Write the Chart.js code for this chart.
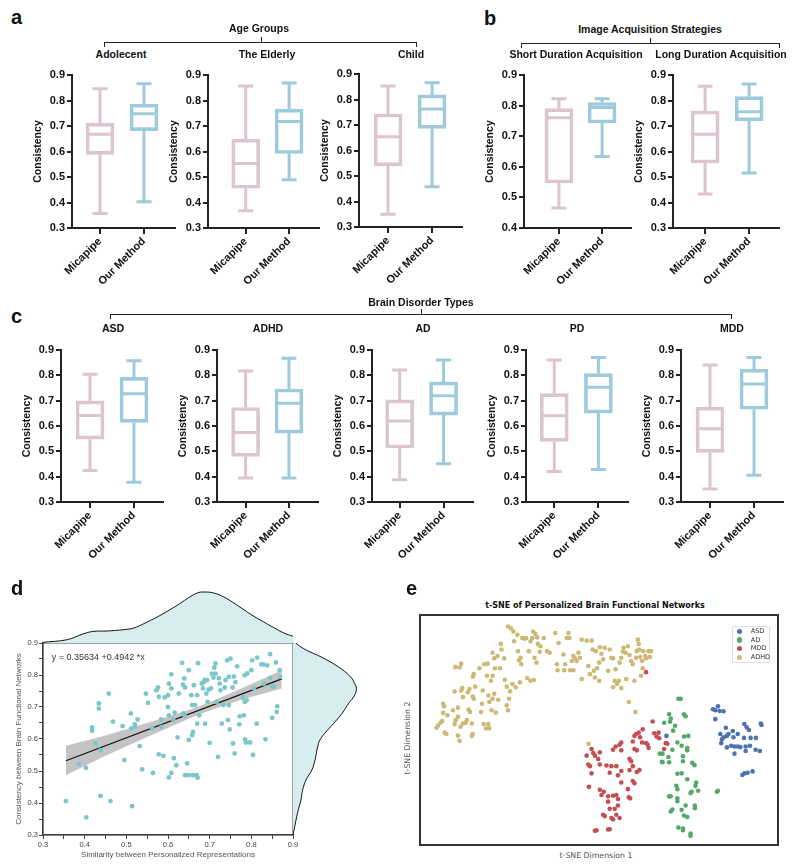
<!DOCTYPE html>
<html>
<head>
<meta charset="utf-8">
<script src="https://cdn.jsdelivr.net/npm/chart.js@4.4.0/dist/chart.umd.min.js"></script>
<style>
body { margin: 0; background: #fff; }
#fig { position: relative; width: 793px; height: 866px; overflow: hidden; font-family: 'Liberation Sans', Arial, sans-serif; color: #111; }
#fig canvas { position: absolute; }
.t { position: absolute; white-space: nowrap; }
.br { position: absolute; border: 1.3px solid #222; border-bottom: none; height: 5px; box-sizing: border-box; }
.bt { position: absolute; width: 0; height: 5px; border-left: 1.3px solid #222; }
</style>
</head>
<body>
<div id="fig"></div>
<script>
// ---- box plot data (a, b, c) ----
const groups = ['Adolecent', 'The Elderly', 'Child', 'Short Duration Acquisition', 'Long Duration Acquisition', 'ASD', 'ADHD', 'AD', 'PD', 'MDD'];
const methods = ['Micapipe', 'Our Method'];
const micapipeMin    = [0.357, 0.368, 0.350, 0.465, 0.433, 0.424, 0.395, 0.388, 0.420, 0.351];
const micapipeQ1     = [0.589, 0.456, 0.540, 0.547, 0.555, 0.548, 0.480, 0.513, 0.539, 0.496];
const micapipeMedian = [0.668, 0.553, 0.654, 0.760, 0.668, 0.641, 0.574, 0.620, 0.640, 0.589];
const micapipeQ3     = [0.711, 0.648, 0.743, 0.790, 0.759, 0.699, 0.673, 0.703, 0.728, 0.674];
const micapipeMax    = [0.846, 0.857, 0.853, 0.822, 0.856, 0.804, 0.817, 0.821, 0.861, 0.841];
const ourMin    = [0.403, 0.489, 0.458, 0.634, 0.516, 0.378, 0.395, 0.451, 0.428, 0.406];
const ourQ1     = [0.682, 0.592, 0.687, 0.743, 0.720, 0.614, 0.572, 0.643, 0.651, 0.666];
const ourMedian = [0.748, 0.718, 0.763, 0.794, 0.756, 0.727, 0.690, 0.719, 0.753, 0.766];
const ourQ3     = [0.786, 0.766, 0.818, 0.810, 0.815, 0.792, 0.746, 0.774, 0.807, 0.824];
const ourMax    = [0.866, 0.869, 0.866, 0.822, 0.865, 0.858, 0.867, 0.861, 0.870, 0.870];
const yTicksBox = [0.3, 0.4, 0.5, 0.6, 0.7, 0.8, 0.9];

// ---- scatter data (d): [similarity, consistency] ----
const scatterPoints = [
  [0.355,0.406],[0.386,0.522],[0.403,0.510],[0.404,0.355],[0.418,0.636],[0.418,0.626],[0.426,0.586],[0.434,0.711],
  [0.434,0.695],[0.438,0.565],[0.438,0.422],[0.458,0.742],[0.462,0.406],[0.468,0.654],[0.491,0.640],[0.495,0.534],
  [0.511,0.680],[0.512,0.633],[0.514,0.390],[0.520,0.646],[0.521,0.638],[0.527,0.661],[0.532,0.578],[0.538,0.505],
  [0.547,0.742],[0.552,0.713],[0.562,0.633],[0.564,0.494],[0.572,0.752],[0.576,0.761],[0.578,0.732],[0.578,0.552],
  [0.584,0.661],[0.584,0.638],[0.589,0.547],[0.592,0.730],[0.600,0.737],[0.600,0.700],[0.602,0.773],[0.602,0.674],
  [0.602,0.480],[0.608,0.758],[0.608,0.802],[0.608,0.494],[0.613,0.659],[0.614,0.540],[0.616,0.682],[0.620,0.518],
  [0.623,0.605],[0.626,0.742],[0.634,0.838],[0.636,0.770],[0.637,0.680],[0.639,0.789],[0.640,0.672],[0.641,0.761],
  [0.641,0.487],[0.646,0.524],[0.650,0.815],[0.650,0.597],[0.650,0.487],[0.656,0.737],[0.658,0.612],[0.660,0.487],
  [0.658,0.706],[0.660,0.622],[0.662,0.768],[0.665,0.706],[0.669,0.487],[0.671,0.479],[0.670,0.648],[0.675,0.674],
  [0.672,0.837],[0.670,0.737],[0.681,0.773],[0.684,0.758],[0.686,0.778],[0.688,0.785],[0.689,0.648],[0.692,0.742],
  [0.694,0.784],[0.695,0.716],[0.697,0.754],[0.700,0.588],[0.703,0.758],[0.705,0.804],[0.709,0.792],[0.711,0.823],
  [0.714,0.836],[0.714,0.804],[0.717,0.716],[0.720,0.544],[0.722,0.790],[0.724,0.773],[0.726,0.752],[0.729,0.648],
  [0.733,0.706],[0.736,0.761],[0.738,0.784],[0.742,0.846],[0.744,0.659],[0.746,0.706],[0.746,0.794],[0.748,0.630],
  [0.750,0.851],[0.755,0.761],[0.756,0.586],[0.758,0.795],[0.760,0.555],[0.762,0.778],[0.766,0.827],[0.771,0.646],
  [0.772,0.671],[0.780,0.729],[0.782,0.674],[0.784,0.716],[0.784,0.799],[0.785,0.599],[0.787,0.589],[0.789,0.721],
  [0.790,0.805],[0.797,0.589],[0.800,0.815],[0.802,0.846],[0.804,0.550],[0.806,0.758],[0.813,0.648],[0.814,0.854],
  [0.824,0.833],[0.828,0.833],[0.830,0.773],[0.834,0.599],[0.838,0.830],[0.845,0.865],[0.845,0.791],[0.850,0.765],
  [0.850,0.666],[0.854,0.763],[0.859,0.839],[0.861,0.685],[0.862,0.702],[0.868,0.815],[0.869,0.794]
];
const fitLine = [[0.355, 0.532], [0.873, 0.788]];            // y = 0.35634 + 0.4942x
const bandX     = [0.355, 0.45, 0.55, 0.65, 0.70, 0.78, 0.873];
const bandUpper = [0.579, 0.611, 0.650, 0.691, 0.715, 0.760, 0.815];
const bandLower = [0.487, 0.548, 0.606, 0.663, 0.689, 0.724, 0.758];
const topDensityX = [0.30,0.358,0.398,0.422,0.454,0.494,0.518,0.542,0.574,0.598,0.622,0.646,0.670,0.686,0.710,0.734,0.758,0.782,0.806,0.830,0.854,0.878,0.90];
const topDensity  = [0.04,0.20,0.56,0.70,0.72,0.80,0.90,1.16,1.56,1.90,2.26,2.66,3.00,3.06,3.00,2.76,2.40,2.00,1.60,1.26,0.92,0.60,0.40];
const rightDensityY = [0.9,0.8875,0.872,0.856,0.825,0.794,0.773,0.758,0.737,0.711,0.680,0.648,0.617,0.596,0.576,0.555,0.529,0.503,0.472,0.440,0.409,0.368,0.326,0.30];
const rightDensity  = [0.16,0.46,1.00,1.66,2.66,3.36,3.60,3.70,3.60,3.24,2.86,2.36,1.84,1.56,1.44,1.36,1.26,1.10,0.76,0.56,0.46,0.26,0.10,0.0];

// ---- t-SNE data (e) ----
const tsneLabels = ['ASD', 'AD', 'MDD', 'ADHD'];
const asdPts = [[34.3,6.3],[35,6],[35.8,7.2],[36.3,5.8],[37.5,5.7],[35,3.3],[38.2,0.7],[36.5,-1.2],[37,-2.8],[36.8,-4],
  [37.5,-2.2],[38.5,-1.8],[39,-1.2],[40.3,-0.3],[40.5,-2.2],[41.8,-1.2],[43.8,1.8],[44.5,0.8],[45.2,0],[45.7,-2.4],
  [43.7,-2.4],[47.3,-2.4],[39.8,-4.8],[40.8,-5],[41.8,-5],[42.6,-5.2],[38.5,-5.3],[40.8,-7.2],[44.2,-5],[44.2,-6.4],
  [45.5,-4.8],[47.2,-6],[48.5,-6.4],[48.8,2],[49,1.5],[43.2,-13.7],[43.8,-13.2],[44.8,-13],[46.3,-12.6],[20.2,-1.8]];
const adPts = [[23.8,9.5],[24.5,9.5],[21,4.8],[21.5,3.5],[21.3,2.5],[25.5,4.8],[26,4.2],[19.5,2.2],[22.8,1.3],[22.2,-0.2],
  [25.5,-2],[26.8,-1.8],[23.5,-3.8],[24.8,-4.8],[26.5,-5.5],[26.5,-6.2],[22,-6],[19,-7.2],[20.8,-8.2],[21,-9.8],
  [19,-9.8],[25.2,-8],[25.2,-9.5],[28,-10],[28.7,-10.7],[23.5,-13.3],[24.8,-13.2],[23.2,-17],[23.5,-18],[26.5,-15],
  [29.2,-16],[29,-17],[27.8,-18.8],[27.5,-19.2],[29.8,-18.5],[21,-20.2],[21.5,-20.2],[23.5,-20.8],[23.5,-21.7],[26,-23],
  [28.8,-23],[28.8,-23.8],[21.5,-24.8],[22,-24.2],[24.8,-24.3],[25.5,-26],[26.5,-26.5],[23.8,-29.7],[25.2,-30],[25.2,-30.5],
  [27.5,-31.5],[27.5,-32.2],[35.5,-18.8],[35.8,-18.5],[18.2,-7.2],[18.8,-9.7]];
const mddPts = [[14,17.6],[16,2.6],[13,0.2],[11.8,-0.8],[11,-1.2],[10.5,-1.8],[12.2,-2.2],[12.8,-3.8],[14,-4],[14.5,-4.5],
  [14.8,-5.5],[16.5,-1],[17.2,-2],[17.8,-0.8],[18,-2.5],[20,-4],[20.5,-4.2],[19.5,-5.8],[10,-3.5],[10.5,-5.8],[11.2,-6.2],
  [9,-8.8],[9.5,-9.5],[10,-11],[6.5,-3.8],[6,-4.5],[4.8,-5],[4,-6],[6.5,-6.2],[-2.5,-5.8],[-2,-7],[-1.5,-7.8],[0,-6.8],
  [-4,-7.8],[-3.5,-10.5],[-3,-11],[-2.5,-13.2],[-0.5,-8.8],[0,-10.5],[2,-10.8],[3.5,-11],[5,-11],[3,-13],[5.5,-13.8],
  [6.5,-12.5],[9,-12.2],[11.2,-12.8],[12,-12.2],[6.5,-16],[10,-15.5],[10.5,-16.2],[8.5,-18],[8.8,-20.5],[9.2,-20.8],
  [-3.3,-17.3],[0,-18.2],[0.5,-19.8],[1.2,-18.8],[2.5,-20.2],[4,-20],[5,-19.8],[5.5,-21],[2.5,-21.8],[3,-24],[4.5,-24],
  [5.5,-23],[5,-25.8],[1,-25.8],[1.5,-26.2],[3.5,-26.8],[4,-27.2],[6,-26.8],[-1.5,-30.7],[-1,-30.5],[2.5,-30.3],[3,-30.2]];
const adhdPts = [[-49.5,0.7],[-49,1.4],[-48.2,2.3],[-47.8,2.7],[-47,-0.8],[-46.5,-1.2],[-47.5,8],[-47.2,7.2],[-46.2,4.5],[-47.5,5.2],
  [-44.5,6],[-44,1.8],[-43.7,3],[-43,4],[-43,6.8],[-42.5,-3.3],[-43,-1.7],[-42.2,1],[-41.5,2],[-42,12],[-41.7,12.8],[-41.5,10],
  [-44,11.7],[-43.8,19.2],[-42,20.2],[-42.5,19],[-40.7,2.2],[-40.3,3],[-39.8,6.2],[-39.3,5.5],[-38.8,2],[-38.8,-1.8],[-38.5,-1.2],
  [-40,11.5],[-39.5,12.5],[-38.5,10.2],[-38.2,9.5],[-38.5,16.2],[-38.2,17],[-37.8,13.2],[-36.5,18.8],[-36,5.5],[-35.7,8],[-35.5,12],
  [-35.2,1.8],[-34.5,0.5],[-33.8,1.8],[-33.5,0.5],[-35,20],[-34,20.2],[-34.2,16.5],[-33,15],[-32.5,16.5],[-33.8,10.5],[-33.5,8.5],
  [-32.8,6],[-32.5,9.5],[-32,11],[-31.5,5.3],[-30.8,9.2],[-32.5,23.5],[-32,21.8],[-31,22.5],[-30,26.2],[-29.8,24.5],[-31.8,18.8],
  [-30.2,18.8],[-29,21.8],[-28.8,15.3],[-28.2,13.2],[-28.2,7.5],[-27.8,6],[-27.5,9.5],[-27.2,11.8],[-26.5,14],[-26,27],[-25.5,13],
  [-27.8,31.5],[-27,31],[-26.2,30],[-25,29],[-24.8,24],[-24.5,21.2],[-24,22],[-23.8,20],[-24.2,14.5],[-23.5,28],[-22.8,27.8],
  [-22.3,28],[-21.5,24],[-21,27],[-20.5,28],[-20.2,30],[-19.5,29.2],[-19,28.2],[-18.8,26.2],[-18.2,23.8],[-18,25.5],[-19.2,20.5],
  [-22,15.8],[-21,15],[-20,15.2],[-19.8,22],[-17,28],[-16,24],[-15.2,23.5],[-13.5,29.5],[-13,20],[-12.8,18.2],[-12.5,26.5],
  [-11,23],[-10.8,18.2],[-10.5,20],[-10,28],[-9.5,29.5],[-9.2,28],[-9,18.2],[-8.5,21],[-8,22.5],[-7.5,21.8],[-8,18.2],[-7,21],
  [-6.5,23.5],[-6,22],[-5.5,15.5],[-5.5,27.5],[-4,27.2],[-3.5,19.5],[-3,17],[-2.5,27.2],[-2.2,24.5],[-1.8,18],[-1.5,16],[-1.2,24],
  [-0.8,18.8],[-0.2,20.5],[0,25.2],[0.5,23.2],[1,21.5],[1.5,25],[-0.2,15],[2.5,18],[3,24.5],[3.5,22],[4,21.8],[4,13],[4.5,15],
  [4.8,18.5],[5.2,14],[5.8,15],[6.5,12.8],[6,20.5],[6.5,22],[7,23.8],[7.2,25],[7.8,23.5],[8,15.5],[8.5,25.5],[9,22.8],[9.5,21],
  [10,20],[10.5,15],[11,22],[11.2,24],[11.5,27.5],[11.8,26.2],[12,24.5],[12.2,22.2],[12.5,16.5],[12.8,21],[13,18.8],[13.2,24],
  [13.8,22.5],[14,21.8],[14.8,24],[15.5,24],[15.2,22.2],[8.8,8.5],[10.8,5.5],[-3.4,-4.2]];

// ---- layout ----
const FONT = "'Liberation Sans', Arial, sans-serif";
const PINK = '#dcc5d1';
const BLUE = '#9dcbdc';
const tsneColors = ['#4c72b0', '#55a868', '#c44e52', '#ccb974'];
// [axis left, axis right, y top (max), y bottom (min), x min, x max]
const boxFrames = [
  [72, 175, 75, 228, -0.636, 1.705],
  [208, 319, 75, 228, -0.87, 1.69],
  [359, 462, 74, 227, -0.66, 1.68],
  [524, 631, 75, 228, -0.81, 1.67],
  [673, 779, 75, 228, -0.73, 1.68],
  [61, 163, 350, 502, -0.66, 1.66],
  [217, 318, 350, 502, -0.66, 1.67],
  [372, 473, 350, 502, -0.63, 1.67],
  [526, 628, 350, 502, -0.64, 1.67],
  [681, 783, 350, 502, -0.66, 1.66]
];
const groupTitleX = [121, 267, 411, 576, 721, 113, 268, 423, 577, 732];

const fig = document.getElementById('fig');

function addCanvas(left, top, w, h) {
  const c = document.createElement('canvas');
  c.width = w; c.height = h;
  c.style.left = left + 'px'; c.style.top = top + 'px';
  fig.appendChild(c);
  return c;
}

function text(txt, x, base, size, o = {}) {
  const d = document.createElement('div');
  d.className = 't';
  d.textContent = txt;
  d.style.fontSize = size + 'px';
  d.style.lineHeight = size + 'px';
  d.style.left = x + 'px';
  d.style.top = (base - 0.8465 * size) + 'px';
  d.style.fontWeight = o.bold ? 'bold' : 'normal';
  if (o.center) d.style.transform = 'translateX(-50%)';
  if (o.color) d.style.color = o.color;
  if (o.family) d.style.fontFamily = o.family;
  d.style.zIndex = 5;
  fig.appendChild(d);
  return d;
}

function bracket(x1, x2, y, mid) {
  const b = document.createElement('div');
  b.className = 'br';
  b.style.left = x1 + 'px'; b.style.top = y + 'px'; b.style.width = (x2 - x1) + 'px';
  fig.appendChild(b);
  const t = document.createElement('div');
  t.className = 'bt';
  t.style.left = mid + 'px'; t.style.top = (y - 5) + 'px';
  fig.appendChild(t);
}

// whiskers, caps and median drawn with the chart's own scales
const boxPlugin = {
  id: 'boxWhiskers',
  afterDatasetsDraw(chart) {
    const ds = chart.data.datasets[0];
    const st = ds.stats;
    const { x, y } = chart.scales;
    const ctx = chart.ctx;
    ctx.save();
    ctx.lineWidth = 3;
    st.min.forEach((lo, j) => {
      const px = x.getPixelForValue(j);
      const top = y.getPixelForValue(st.max[j]);
      const q3 = y.getPixelForValue(st.q3[j]);
      const q1 = y.getPixelForValue(st.q1[j]);
      const bot = y.getPixelForValue(lo);
      const med = y.getPixelForValue(st.med[j]);
      ctx.strokeStyle = ds.borderColor[j];
      ctx.beginPath();
      ctx.moveTo(px, top); ctx.lineTo(px, q3);
      ctx.moveTo(px, q1); ctx.lineTo(px, bot);
      ctx.moveTo(px - 7.5, top); ctx.lineTo(px + 7.5, top);
      ctx.moveTo(px - 7.5, bot); ctx.lineTo(px + 7.5, bot);
      ctx.moveTo(px - 12.5, med); ctx.lineTo(px + 12.5, med);
      ctx.stroke();
    });
    ctx.restore();
  }
};

const framePlugin = {
  id: 'frame',
  afterDraw(chart, args, opts) {
    const a = chart.chartArea;
    const ctx = chart.ctx;
    ctx.save();
    ctx.strokeStyle = opts.color || '#333';
    ctx.lineWidth = opts.width || 1;
    ctx.strokeRect(a.left, a.top, a.right - a.left, a.bottom - a.top);
    ctx.restore();
  }
};

function boxChart(i) {
  const [xl, xr, yt, yb, xmin, xmax] = boxFrames[i];
  const ymin = i === 3 ? 0.4 : 0.3;
  const padTop = 14, yW = 42, xH = 70, padR = 6;
  const cv = addCanvas(xl - yW, yt - padTop, xr - xl + yW + padR, yb - yt + padTop + xH);
  const q1 = [micapipeQ1[i], ourQ1[i]];
  const q3 = [micapipeQ3[i], ourQ3[i]];
  const axisFont = { family: FONT, size: 11, weight: 'bold' };
  new Chart(cv, {
    type: 'bar',
    data: {
      datasets: [{
        data: methods.map((m, j) => ({ x: j, y: [q1[j], q3[j]] })),
        stats: {
          min: [micapipeMin[i], ourMin[i]],
          q1, q3,
          med: [micapipeMedian[i], ourMedian[i]],
          max: [micapipeMax[i], ourMax[i]]
        },
        borderColor: [PINK, BLUE],
        backgroundColor: 'rgba(255,255,255,0)',
        borderWidth: 3,
        borderSkipped: false,
        barThickness: 28
      }]
    },
    options: {
      responsive: false,
      animation: false,
      layout: { padding: { top: padTop, right: padR, left: 0, bottom: 0 } },
      plugins: { legend: { display: false }, tooltip: { enabled: false } },
      scales: {
        x: {
          type: 'linear', min: xmin, max: xmax, offset: false,
          afterBuildTicks: s => { s.ticks = methods.map((m, j) => ({ value: j })); },
          afterFit: s => { s.height = xH; },
          ticks: { callback: v => methods[v], minRotation: 45, maxRotation: 45, autoSkip: false, color: '#111', font: axisFont, padding: 1 },
          grid: { drawOnChartArea: false, offset: false, tickLength: 6, color: '#222', lineWidth: 2 },
          border: { color: '#222', width: 2 }
        },
        y: {
          min: ymin, max: 0.9,
          afterBuildTicks: s => { s.ticks = yTicksBox.filter(v => v >= ymin - 1e-9).map(v => ({ value: v })); },
          afterFit: s => { s.width = yW; },
          ticks: { callback: v => v.toFixed(1), color: '#111', font: axisFont, padding: 2 },
          grid: { drawOnChartArea: false, tickLength: 5, color: '#222', lineWidth: 2 },
          border: { color: '#222', width: 2 },
          title: { display: true, text: 'Consistency', color: '#111', font: { family: FONT, size: 10.5, weight: 'bold' }, padding: { top: 2, bottom: 0 } }
        }
      }
    },
    plugins: [boxPlugin]
  });
}

// ---- headers ----
text('a', 11, 24, 20, { bold: true });
text('b', 484, 25, 20, { bold: true });
text('c', 11, 323, 20, { bold: true });
text('d', 11, 595, 20, { bold: true });
text('e', 406, 595, 20, { bold: true });

text('Age Groups', 259, 31.5, 10.5, { bold: true, center: true });
bracket(104, 417, 42, 261);
text('Image Acquisition Strategies', 650, 32.5, 10.5, { bold: true, center: true });
bracket(521, 780, 43, 650);
text('Brain Disorder Types', 421, 306, 10.5, { bold: true, center: true });
bracket(110, 732, 314, 421);
groups.forEach((g, i) => {
  text(g, groupTitleX[i], i < 5 ? 58 : 332.3, 10.5, { bold: true, center: true });
});

for (let i = 0; i < groups.length; i++) boxChart(i);

// ---- panel d ----
const dTick = { family: FONT, size: 7.5 };
const dTitle = { family: FONT, size: 8 };
const isMajor = v => Math.abs(v * 10 - Math.round(v * 10)) < 1e-6;
new Chart(addCanvas(0, 636, 300, 230), {
  type: 'scatter',
  data: {
    datasets: [
      { data: bandX.map((x, k) => ({ x, y: bandLower[k] })), showLine: true, borderWidth: 0, pointRadius: 0, order: 2 },
      { data: bandX.map((x, k) => ({ x, y: bandUpper[k] })), showLine: true, borderWidth: 0, pointRadius: 0, order: 2,
        fill: '-1', backgroundColor: 'rgba(160,160,160,0.62)' },
      { data: fitLine.map(([x, y]) => ({ x, y })), showLine: true, borderColor: '#111', borderWidth: 1.2, pointRadius: 0, order: 1 },
      { data: scatterPoints.map(([x, y]) => ({ x, y })), pointRadius: 2.4, pointBorderWidth: 0, backgroundColor: '#7cc6ca', order: 0 }
    ]
  },
  options: {
    responsive: false,
    animation: false,
    layout: { padding: { top: 7, right: 7, left: 0, bottom: 0 } },
    plugins: { legend: { display: false }, tooltip: { enabled: false }, frame: { color: '#444', width: 1 } },
    scales: {
      x: {
        type: 'linear', min: 0.3, max: 0.9,
        afterFit: s => { s.height = 31; },
        ticks: { stepSize: 0.05, autoSkip: false, maxRotation: 0, callback: v => isMajor(v) ? v.toFixed(1) : '', color: '#444', font: dTick, padding: 1 },
        grid: { drawOnChartArea: false, tickLength: 4, color: '#444' },
        border: { color: '#333', width: 1.3 },
        title: { display: true, text: 'Similarity between Personalized Representations', color: '#555', font: dTitle, padding: { top: 0, bottom: 6 } }
      },
      y: {
        min: 0.3, max: 0.9,
        afterFit: s => { s.width = 43; },
        ticks: { stepSize: 0.05, autoSkip: false, callback: v => isMajor(v) ? v.toFixed(1) : '', color: '#444', font: dTick, padding: 1 },
        grid: { drawOnChartArea: false, tickLength: 4, color: '#444' },
        border: { color: '#333', width: 1.3 },
        title: { display: true, text: 'Consistency between Brain Functional Networks', color: '#555', font: dTitle, padding: { top: 13.5, bottom: 0 } }
      }
    }
  },
  plugins: [framePlugin]
});
text('y = 0.35634 +0.4942 *x', 51.7, 660.5, 9, { color: '#333' });

// marginal densities
new Chart(addCanvas(43, 588, 250, 55), {
  type: 'scatter',
  data: { datasets: [{ data: topDensityX.map((x, k) => ({ x, y: topDensity[k] })), showLine: true, tension: 0.4,
    fill: 'origin', backgroundColor: '#d7edf0', borderColor: '#111', borderWidth: 1, pointRadius: 0 }] },
  options: {
    responsive: false, animation: false,
    layout: { padding: 0 },
    plugins: { legend: { display: false }, tooltip: { enabled: false } },
    scales: { x: { type: 'linear', min: 0.3, max: 0.9, display: false }, y: { min: 0, max: 3.3, display: false } }
  }
});
new Chart(addCanvas(293, 643, 72, 192), {
  type: 'line',
  data: { datasets: [{ data: rightDensityY.map((y, k) => ({ x: rightDensity[k], y })), tension: 0.4,
    fill: 'origin', backgroundColor: '#d7edf0', borderColor: '#111', borderWidth: 1, pointRadius: 0 }] },
  options: {
    indexAxis: 'y',
    responsive: false, animation: false,
    layout: { padding: 0 },
    plugins: { legend: { display: false }, tooltip: { enabled: false } },
    scales: { x: { type: 'linear', min: 0, max: 4.2, display: false }, y: { type: 'linear', min: 0.3, max: 0.9, display: false } }
  }
});

// ---- panel e ----
new Chart(addCanvas(416, 611, 366, 238), {
  type: 'scatter',
  data: {
    datasets: [asdPts, adPts, mddPts, adhdPts].map((pts, k) => ({
      label: tsneLabels[k],
      data: pts.map(([x, y]) => ({ x, y })),
      pointRadius: 2.3, pointBorderWidth: 0, backgroundColor: tsneColors[k]
    }))
  },
  options: {
    responsive: false, animation: false,
    layout: { padding: 2 },
    plugins: { legend: { display: false }, tooltip: { enabled: false }, frame: { color: '#333', width: 2 } },
    scales: { x: { type: 'linear', min: -54.5, max: 54, display: false }, y: { min: -35, max: 35, display: false } }
  },
  plugins: [framePlugin]
});
const DJ = "'DejaVu Sans', sans-serif";
text('t-SNE of Personalized Brain Functional Networks', 595, 609, 8, { bold: true, center: true, family: DJ });
text('t-SNE Dimension 1', 596, 859, 7.8, { center: true, family: DJ, color: '#555' });
const yl = text('t-SNE Dimension 2', 411.7, 738 + 3, 7.8, { family: DJ, color: '#555' });
yl.style.transformOrigin = '0 0';
yl.style.transform = 'rotate(-90deg) translate(-50%, -50%)';
yl.style.top = '738px';
yl.style.left = '408px';

// legend
const lg = document.createElement('div');
lg.style.cssText = 'position:absolute;left:732px;top:626px;width:38px;height:37px;border:1px solid #ddd;border-radius:2px;background:#fff;box-sizing:border-box;z-index:4';
fig.appendChild(lg);
tsneLabels.forEach((l, k) => {
  const cy = [631.7, 640, 648.3, 657.7][k];
  const m = document.createElement('div');
  m.style.cssText = `position:absolute;left:${739.3 - 2.6}px;top:${cy - 2.6}px;width:5.2px;height:5.2px;border-radius:50%;background:${tsneColors[k]};z-index:5`;
  fig.appendChild(m);
  text(l, 750.7, cy + 2.3, 6.5, { family: DJ, color: '#333' });
});
</script>
</body>
</html>
